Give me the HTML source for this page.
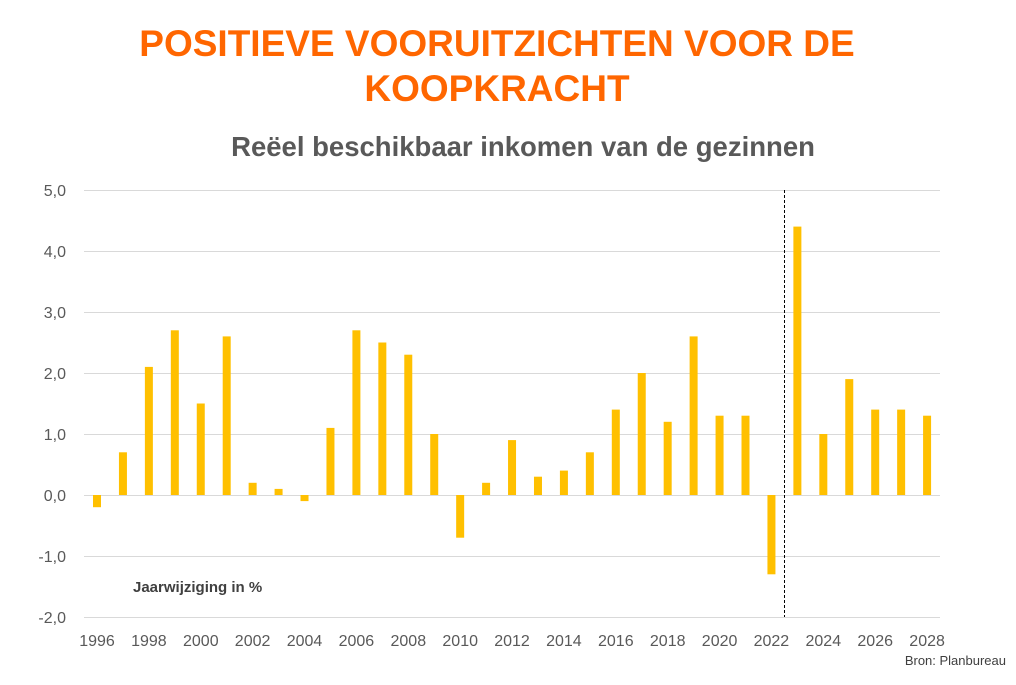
<!DOCTYPE html>
<html><head><meta charset="utf-8"><style>
body{margin:0;background:#fff;}
</style></head><body>
<svg width="1016" height="680" viewBox="0 0 1016 680" xmlns="http://www.w3.org/2000/svg" font-family="Liberation Sans, sans-serif">
<rect width="1016" height="680" fill="#fff"/>
<text x="497" y="56" text-anchor="middle" font-size="37" font-weight="bold" fill="#FF6600">POSITIEVE VOORUITZICHTEN VOOR DE</text>
<text x="497" y="101" text-anchor="middle" font-size="37" font-weight="bold" fill="#FF6600">KOOPKRACHT</text>
<text x="523" y="156" text-anchor="middle" font-size="27.5" font-weight="bold" fill="#595959">Reëel beschikbaar inkomen van de gezinnen</text>
<g stroke="#d9d9d9" stroke-width="1">
<line x1="84" x2="940" y1="190.5" y2="190.5"/>
<line x1="84" x2="940" y1="251.5" y2="251.5"/>
<line x1="84" x2="940" y1="312.5" y2="312.5"/>
<line x1="84" x2="940" y1="373.5" y2="373.5"/>
<line x1="84" x2="940" y1="434.5" y2="434.5"/>
<line x1="84" x2="940" y1="495.5" y2="495.5"/>
<line x1="84" x2="940" y1="556.5" y2="556.5"/>
<line x1="84" x2="940" y1="617.5" y2="617.5"/>
</g>
<g font-size="16" fill="#595959" text-anchor="end">
<text x="66" y="196">5,0</text><text x="66" y="257">4,0</text><text x="66" y="318">3,0</text><text x="66" y="379">2,0</text><text x="66" y="440">1,0</text><text x="66" y="501">0,0</text><text x="66" y="562">-1,0</text><text x="66" y="623">-2,0</text>
</g>
<g fill="#FFC000">
<rect x="93" y="495" width="8" height="12.2"/>
<rect x="118.94" y="452.3" width="8" height="42.7"/>
<rect x="144.88" y="366.9" width="8" height="128.1"/>
<rect x="170.82" y="330.3" width="8" height="164.7"/>
<rect x="196.76" y="403.5" width="8" height="91.5"/>
<rect x="222.7" y="336.4" width="8" height="158.6"/>
<rect x="248.64" y="482.8" width="8" height="12.2"/>
<rect x="274.58" y="488.9" width="8" height="6.1"/>
<rect x="300.52" y="495" width="8" height="6.1"/>
<rect x="326.46" y="427.9" width="8" height="67.1"/>
<rect x="352.4" y="330.3" width="8" height="164.7"/>
<rect x="378.34" y="342.5" width="8" height="152.5"/>
<rect x="404.28" y="354.7" width="8" height="140.3"/>
<rect x="430.22" y="434" width="8" height="61"/>
<rect x="456.16" y="495" width="8" height="42.7"/>
<rect x="482.1" y="482.8" width="8" height="12.2"/>
<rect x="508.04" y="440.1" width="8" height="54.9"/>
<rect x="533.98" y="476.7" width="8" height="18.3"/>
<rect x="559.92" y="470.6" width="8" height="24.4"/>
<rect x="585.86" y="452.3" width="8" height="42.7"/>
<rect x="611.8" y="409.6" width="8" height="85.4"/>
<rect x="637.74" y="373" width="8" height="122"/>
<rect x="663.68" y="421.8" width="8" height="73.2"/>
<rect x="689.62" y="336.4" width="8" height="158.6"/>
<rect x="715.56" y="415.7" width="8" height="79.3"/>
<rect x="741.5" y="415.7" width="8" height="79.3"/>
<rect x="767.44" y="495" width="8" height="79.3"/>
<rect x="793.38" y="226.6" width="8" height="268.4"/>
<rect x="819.32" y="434" width="8" height="61"/>
<rect x="845.26" y="379.1" width="8" height="115.9"/>
<rect x="871.2" y="409.6" width="8" height="85.4"/>
<rect x="897.14" y="409.6" width="8" height="85.4"/>
<rect x="923.08" y="415.7" width="8" height="79.3"/>
</g>
<g font-size="16" fill="#595959" text-anchor="middle">
<text x="97" y="646">1996</text><text x="148.9" y="646">1998</text><text x="200.8" y="646">2000</text><text x="252.6" y="646">2002</text><text x="304.5" y="646">2004</text><text x="356.4" y="646">2006</text><text x="408.3" y="646">2008</text><text x="460.2" y="646">2010</text><text x="512" y="646">2012</text><text x="563.9" y="646">2014</text><text x="615.8" y="646">2016</text><text x="667.7" y="646">2018</text><text x="719.6" y="646">2020</text><text x="771.4" y="646">2022</text><text x="823.3" y="646">2024</text><text x="875.2" y="646">2026</text><text x="927.1" y="646">2028</text>
</g>
<line x1="784.5" x2="784.5" y1="190" y2="617" stroke="#000" stroke-width="1" stroke-dasharray="3,2"/>
<text x="133" y="592" font-size="15" font-weight="bold" fill="#404040">Jaarwijziging in %</text>
<text x="1006" y="665" font-size="13" fill="#404040" text-anchor="end">Bron: Planbureau</text>
</svg>
</body></html>
